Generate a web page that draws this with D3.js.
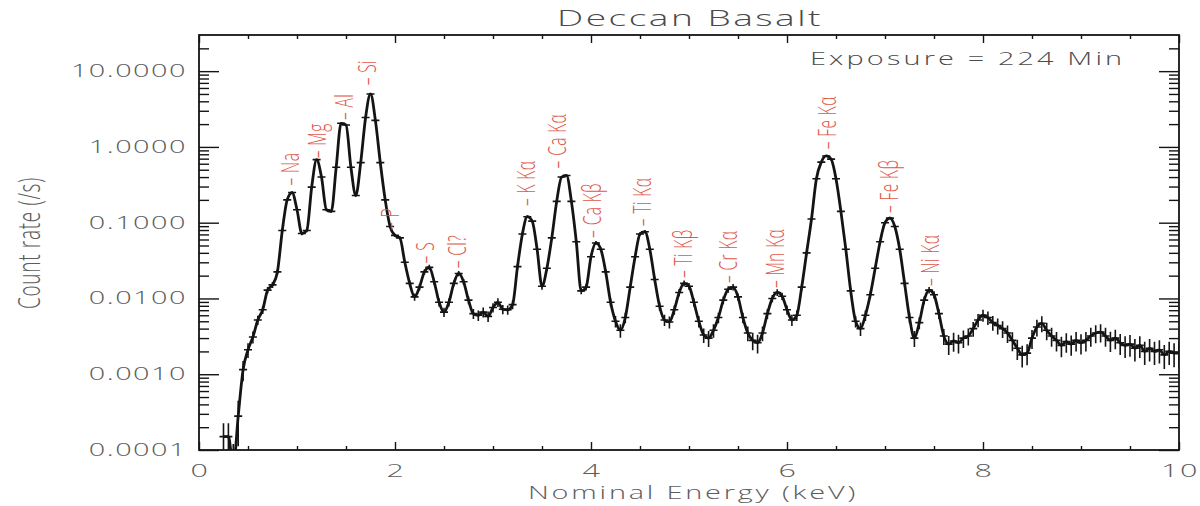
<!DOCTYPE html>
<html>
<head>
<meta charset="utf-8">
<script src="https://cdn.jsdelivr.net/npm/d3@7"></script>
<style>
  body { margin: 0; background: #fff; }
  svg { display: block; }
  text { font-family: "Open Sans", "DejaVu Sans", sans-serif; font-weight: 300; }
</style>
</head>
<body>
<svg id="chart" width="1200" height="506"></svg>
<script>
// Spectrum binning (keV)
const binStart = 0.25;
const binWidth = 0.05;

// Count rate (/s) per 0.05 keV bin, starting at 0.25 keV
const countRate = [
  0.00015, 0.00015, 0.00006, 0.00028, 0.00115, 0.0021, 0.0031, 0.0052, 0.0071, 0.0129,   // 0.25-0.70
  0.0151, 0.0224, 0.079, 0.20, 0.25, 0.148, 0.072, 0.079, 0.295, 0.68,                   // 0.75-1.20
  0.40, 0.148, 0.141, 0.54, 2.05, 1.95, 0.54, 0.229, 0.62, 2.45,                         // 1.25-1.70
  5.0, 2.24, 0.62, 0.20, 0.089, 0.068, 0.063, 0.030, 0.0158, 0.0105,                     // 1.75-2.20
  0.0141, 0.0224, 0.0257, 0.0166, 0.0089, 0.0066, 0.0089, 0.0158, 0.0214, 0.0166,        // 2.25-2.70
  0.0095, 0.0063, 0.0060, 0.0066, 0.0058, 0.0076, 0.0089, 0.0072, 0.0071, 0.0083,        // 2.75-3.20
  0.0263, 0.071, 0.120, 0.105, 0.0447, 0.0145, 0.0251, 0.063, 0.191, 0.40,               // 3.25-3.70
  0.42, 0.191, 0.056, 0.0126, 0.0141, 0.0355, 0.054, 0.0447, 0.0224, 0.0089,             // 3.75-4.20
  0.0050, 0.0038, 0.0056, 0.0141, 0.0355, 0.071, 0.076, 0.0447, 0.0178, 0.0079,          // 4.25-4.70
  0.0052, 0.0049, 0.0071, 0.0120, 0.0158, 0.0145, 0.0089, 0.0050, 0.0033, 0.0030,        // 4.75-5.20
  0.0038, 0.0056, 0.0095, 0.0132, 0.0141, 0.0105, 0.0056, 0.0035, 0.0028, 0.0026,        // 5.25-5.70
  0.0035, 0.0063, 0.0100, 0.0120, 0.0107, 0.0071, 0.0052, 0.0060, 0.0141, 0.040,         // 5.75-6.20
  0.112, 0.38, 0.63, 0.76, 0.69, 0.38, 0.141, 0.0447, 0.0126, 0.0050,                    // 6.25-6.70
  0.0040, 0.0060, 0.0112, 0.0251, 0.056, 0.100, 0.115, 0.089, 0.0447, 0.0158,            // 6.75-7.20
  0.0056, 0.0030, 0.0048, 0.0095, 0.0129, 0.0112, 0.0063, 0.0032, 0.0025, 0.00275,       // 7.25-7.70
  0.0026, 0.0030, 0.0032, 0.0040, 0.0052, 0.0060, 0.0056, 0.0048, 0.0044, 0.0040,        // 7.75-8.20
  0.0035, 0.0028, 0.0022, 0.0018, 0.0019, 0.0030, 0.0042, 0.0047, 0.0038, 0.0032,        // 8.25-8.70
  0.0028, 0.0024, 0.0027, 0.0025, 0.0028, 0.0026, 0.0028, 0.0032, 0.0035, 0.0036,        // 8.75-9.20
  0.0032, 0.0028, 0.0030, 0.0026, 0.0024, 0.0025, 0.0022, 0.0024, 0.0020, 0.0022,        // 9.25-9.70
  0.0020, 0.0021, 0.0018, 0.0020, 0.0019, 0.0019                                         // 9.75-10.00
];

// Fractional 1-sigma error on each bin
const rateError = [
  0.5, 0.5, 1.0, 0.6, 0.3, 0.22, 0.18, 0.14, 0.12, 0.10,
  0.09, 0.08, 0.05, 0.04, 0.04, 0.04, 0.05, 0.05, 0.04, 0.03,
  0.03, 0.04, 0.04, 0.03, 0.03, 0.03, 0.03, 0.04, 0.03, 0.03,
  0.03, 0.03, 0.03, 0.04, 0.05, 0.05, 0.05, 0.07, 0.09, 0.11,
  0.10, 0.08, 0.08, 0.09, 0.12, 0.14, 0.12, 0.09, 0.08, 0.09,
  0.12, 0.15, 0.16, 0.15, 0.16, 0.14, 0.13, 0.14, 0.14, 0.13,
  0.08, 0.05, 0.04, 0.04, 0.06, 0.10, 0.08, 0.05, 0.04, 0.03,
  0.03, 0.04, 0.05, 0.10, 0.10, 0.07, 0.06, 0.06, 0.08, 0.12,
  0.17, 0.20, 0.16, 0.10, 0.07, 0.05, 0.05, 0.06, 0.09, 0.13,
  0.17, 0.18, 0.14, 0.11, 0.09, 0.10, 0.12, 0.17, 0.22, 0.24,
  0.20, 0.16, 0.12, 0.10, 0.10, 0.11, 0.16, 0.22, 0.26, 0.28,
  0.22, 0.15, 0.11, 0.10, 0.11, 0.14, 0.17, 0.16, 0.10, 0.06,
  0.04, 0.03, 0.03, 0.03, 0.03, 0.03, 0.04, 0.06, 0.10, 0.17,
  0.20, 0.16, 0.11, 0.08, 0.05, 0.04, 0.04, 0.05, 0.06, 0.09,
  0.16, 0.24, 0.18, 0.12, 0.10, 0.11, 0.15, 0.24, 0.28, 0.28,
  0.28, 0.26, 0.25, 0.22, 0.20, 0.18, 0.20, 0.22, 0.24, 0.25,
  0.26, 0.28, 0.30, 0.32, 0.31, 0.28, 0.25, 0.24, 0.26, 0.28,
  0.29, 0.30, 0.29, 0.30, 0.29, 0.30, 0.29, 0.28, 0.27, 0.27,
  0.28, 0.30, 0.29, 0.31, 0.32, 0.32, 0.33, 0.32, 0.34, 0.33,
  0.34, 0.34, 0.35, 0.34, 0.35, 0.35
];

// Emission line identifications
const peakNames = ["Na", "Mg", "Al", "Si", "P", "S", "Cl?", "K K\u03b1", "Ca K\u03b1", "Ca K\u03b2",
                   "Ti K\u03b1", "Ti K\u03b2", "Cr K\u03b1", "Mn K\u03b1", "Fe K\u03b1", "Fe K\u03b2", "Ni K\u03b1"];
const peakEnergy = [0.93, 1.20, 1.48, 1.71, 1.95, 2.31, 2.63, 3.34, 3.65, 4.01,
                    4.52, 4.94, 5.40, 5.88, 6.41, 7.04, 7.46];
const peakLabelRate = [0.31, 0.71, 2.26, 6.5, 0.080, 0.029, 0.025, 0.166, 0.52, 0.063,
                       0.090, 0.0186, 0.016, 0.0137, 0.93, 0.134, 0.0146];

// Axis ticks
const xTickValues = [0, 2, 4, 6, 8, 10];
const xTickLabels = ["0", "2", "4", "6", "8", "10"];
const yTickValues = [0.0001, 0.001, 0.01, 0.1, 1, 10];
const yTickLabels = ["0.0001", "0.0010", "0.0100", "0.1000", "1.0000", "10.0000"];

const titleText = "Deccan Basalt";
const exposureText = "Exposure = 224 Min";
const xTitle = "Nominal Energy (keV)";
const yTitle = "Count rate (/s)";

// ---------------------------------------------------------------
const svg = d3.select("#chart");
const plot = { left: 199, right: 1179, top: 35, bottom: 450 };
const stretch = 1.65;            // wide lettering of the plot text
const ink = "#141414";
const textGrey = "#5c5c5c";
const labelRed = "#e0564a";

const x = d3.scaleLinear().domain([0, 10]).range([plot.left, plot.right]);
const y = d3.scaleLog().domain([1e-4, 30]).range([plot.bottom, plot.top]);

const spectrum = countRate.map((r, i) => ({
  e: +(binStart + i * binWidth).toFixed(2),
  r: r,
  lo: Math.max(r * (1 - rateError[i]), 1e-6),
  hi: r * (1 + rateError[i])
}));

// clip region for the data
svg.append("defs").append("clipPath").attr("id", "plot-clip")
  .append("rect")
  .attr("x", plot.left).attr("y", plot.top)
  .attr("width", plot.right - plot.left).attr("height", plot.bottom - plot.top);

// ---- axes ------------------------------------------------------
const xMinor = d3.range(0.5, 10, 0.5).filter(v => v % 2 !== 0);
const yMinor = [];
[1e-4, 1e-3, 1e-2, 1e-1, 1, 10].forEach(d => {
  for (let m = 2; m <= 9; m++) { if (d * m < 30) yMinor.push(d * m); }
});

function styleAxis(g) {
  g.select(".domain").remove();
  g.selectAll("line").attr("stroke", ink).attr("stroke-width", 1.4);
  g.selectAll("text").remove();
}

const axes = svg.append("g");
axes.append("g").attr("transform", `translate(0,${plot.bottom})`)
  .call(d3.axisBottom(x).tickValues(xTickValues).tickSize(-8)).call(styleAxis);
axes.append("g").attr("transform", `translate(0,${plot.bottom})`)
  .call(d3.axisBottom(x).tickValues(xMinor).tickSize(-4)).call(styleAxis);
axes.append("g").attr("transform", `translate(0,${plot.top})`)
  .call(d3.axisTop(x).tickValues(xTickValues).tickSize(-8)).call(styleAxis);
axes.append("g").attr("transform", `translate(0,${plot.top})`)
  .call(d3.axisTop(x).tickValues(xMinor).tickSize(-4)).call(styleAxis);

axes.append("g").attr("transform", `translate(${plot.left},0)`)
  .call(d3.axisLeft(y).tickValues(yTickValues).tickSize(-20)).call(styleAxis);
axes.append("g").attr("transform", `translate(${plot.left},0)`)
  .call(d3.axisLeft(y).tickValues(yMinor).tickSize(-10)).call(styleAxis);
axes.append("g").attr("transform", `translate(${plot.right},0)`)
  .call(d3.axisRight(y).tickValues(yTickValues).tickSize(-20)).call(styleAxis);
axes.append("g").attr("transform", `translate(${plot.right},0)`)
  .call(d3.axisRight(y).tickValues(yMinor).tickSize(-10)).call(styleAxis);

// frame
svg.append("rect")
  .attr("x", plot.left).attr("y", plot.top)
  .attr("width", plot.right - plot.left).attr("height", plot.bottom - plot.top)
  .attr("fill", "none").attr("stroke", ink).attr("stroke-width", 1.8);

// ---- tick labels -------------------------------------------------
function wideText(parent, px, py, str, size, anchor, fill, spacing) {
  return parent.append("text")
    .attr("transform", `translate(${px},${py}) scale(${stretch},1)`)
    .attr("text-anchor", anchor)
    .attr("font-size", size)
    .attr("letter-spacing", spacing)
    .attr("fill", fill)
    .text(str);
}

const tickText = svg.append("g");
yTickValues.forEach((v, i) => {
  wideText(tickText, 187, y(v) + 6, yTickLabels[i], 17.5, "end", textGrey, 0.9);
});
xTickValues.forEach((v, i) => {
  wideText(tickText, x(v) + 1, 477, xTickLabels[i], 18.5, "middle", textGrey, 0.9);
});

// titles
wideText(svg, (plot.left + plot.right) / 2 + 1, 26, titleText, 22.5, "middle", "#4a4a4a", 1.5);
wideText(svg, 810, 65, exposureText, 17.5, "start", "#4a4a4a", 1.9);
wideText(svg, 693, 499, xTitle, 17.5, "middle", textGrey, 1.7);
svg.append("text")
  .attr("transform", `translate(29,243) scale(${stretch},1) rotate(-90)`)
  .attr("text-anchor", "middle")
  .attr("dy", "0.35em")
  .attr("font-size", 19)
  .attr("letter-spacing", 0.7)
  .attr("fill", textGrey)
  .text(yTitle);

// ---- spectrum ----------------------------------------------------
const data = svg.append("g").attr("clip-path", "url(#plot-clip)");

const line = d3.line()
  .curve(d3.curveMonotoneX)
  .x(d => x(d.e))
  .y(d => y(Math.max(d.r, 1e-6)));

data.append("path")
  .datum(spectrum)
  .attr("d", line)
  .attr("fill", "none")
  .attr("stroke", ink)
  .attr("stroke-width", 2.8)
  .attr("stroke-linejoin", "round");

data.append("g")
  .selectAll("path")
  .data(spectrum)
  .join("path")
  .attr("d", d => {
    const cx = x(d.e), cy = y(d.r);
    return `M${cx - 4},${cy}H${cx + 4}M${cx},${y(d.lo)}V${y(d.hi)}`;
  })
  .attr("stroke", ink)
  .attr("stroke-width", 1.6)
  .attr("fill", "none");

// ---- line identifications ------------------------------------------
const labels = svg.append("g");
peakNames.forEach((name, i) => {
  labels.append("text")
    .attr("transform", `translate(${x(peakEnergy[i])},${y(peakLabelRate[i])}) scale(${stretch},1) rotate(-90)`)
    .attr("text-anchor", "start")
    .attr("dy", "0.35em")
    .attr("font-size", 15.5)
    .attr("letter-spacing", 0.4)
    .attr("fill", labelRed)
    .text("\u2013 " + name);
});
</script>
</body>
</html>
